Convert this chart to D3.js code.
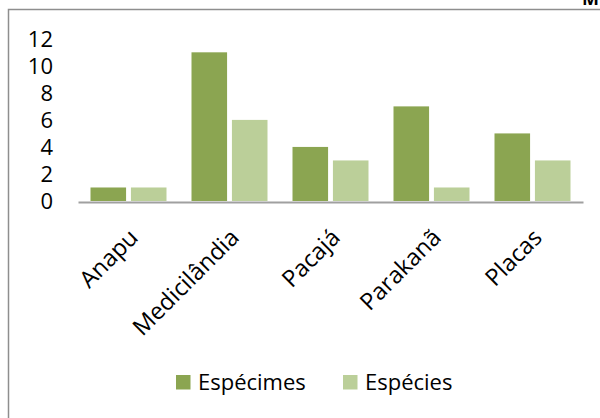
<!DOCTYPE html>
<html>
<head>
<meta charset="utf-8">
<script src="https://cdn.jsdelivr.net/npm/d3@7"></script>
<style>
  html, body { margin: 0; padding: 0; background: #fff; }
  svg { display: block; }
  text { font-family: "Open Sans", "Noto Sans", sans-serif; fill: #000; }
</style>
</head>
<body>
<svg id="chart" width="600" height="418"></svg>
<script>
// Localidades e contagens
const categories = ["Anapu", "Medicilândia", "Pacajá", "Parakanã", "Placas"];
const especimes = [1, 11, 4, 7, 5];
const especies = [1, 6, 3, 1, 3];
const seriesNames = ["Espécimes", "Espécies"];
const yTicks = [0, 2, 4, 6, 8, 10, 12];

const colors = ["#8BA551", "#BBCF99"];

const svg = d3.select("#chart");

// Frame of the chart area
svg.append("path")
  .attr("d", "M8.5,420 L8.5,9.5 L602,9.5")
  .attr("fill", "none")
  .attr("stroke", "#8e8e8e")
  .attr("stroke-width", 1.5);

// Title fragment above the frame
svg.append("text")
  .attr("x", 582)
  .attr("y", 5)
  .style("font-weight", "bold")
  .style("font-size", "18px")
  .text("M");

const x0 = d3.scaleBand().domain(categories).range([78, 583]).paddingInner(0).paddingOuter(0);
const x1 = d3.scaleBand().domain(seriesNames).range([12.5, x0.bandwidth() - 12.5]).paddingInner(0.12);
const y = d3.scaleLinear().domain([0, 12]).range([201, 38.8]);

// Y tick labels (no axis line)
const yAxis = d3.axisLeft(y).tickValues(yTicks).tickSize(0).tickPadding(0);
const gy = svg.append("g").attr("transform", "translate(53,0)").call(yAxis);
gy.select(".domain").remove();
gy.selectAll("text")
  .style("font-size", "22px")
  .style("font-family", "'Open Sans', 'Noto Sans', sans-serif")
  .attr("fill", "#000")
  .attr("dy", "0.36em");

// Bars
const rows = categories.map((c, i) => ({ cat: c, vals: [especimes[i], especies[i]] }));
const groups = svg.append("g").selectAll("g")
  .data(rows)
  .join("g")
  .attr("transform", d => `translate(${x0(d.cat)},0)`);

groups.selectAll("rect")
  .data(d => d.vals.map((v, k) => ({ v, k })))
  .join("rect")
  .attr("x", d => x1(seriesNames[d.k]))
  .attr("width", x1.bandwidth())
  .attr("y", d => y(d.v))
  .attr("height", d => y(0) - y(d.v))
  .attr("fill", d => colors[d.k]);

// X axis baseline and rotated category labels
const xAxis = d3.axisBottom(x0).tickSize(0).tickPadding(0);
const gx = svg.append("g").attr("transform", `translate(0,${y(0) + 1})`).call(xAxis);
gx.select(".domain").attr("stroke", "#a0a0a0").attr("stroke-width", 2);
gx.selectAll("text")
  .style("font-size", "23.5px")
  .style("font-family", "'Open Sans', 'Noto Sans', sans-serif")
  .attr("fill", "#000")
  .attr("text-anchor", "end")
  .attr("dy", null)
  .attr("transform", "translate(11,37) rotate(-45)");

// Legend
const legend = svg.append("g");
const legendX = [176, 343];
seriesNames.forEach((name, i) => {
  legend.append("rect")
    .attr("x", legendX[i])
    .attr("y", 375)
    .attr("width", 14.5)
    .attr("height", 14.5)
    .attr("fill", colors[i]);
  legend.append("text")
    .attr("x", legendX[i] + 22)
    .attr("y", 390)
    .style("font-size", "22px")
    .text(name);
});
</script>
</body>
</html>
